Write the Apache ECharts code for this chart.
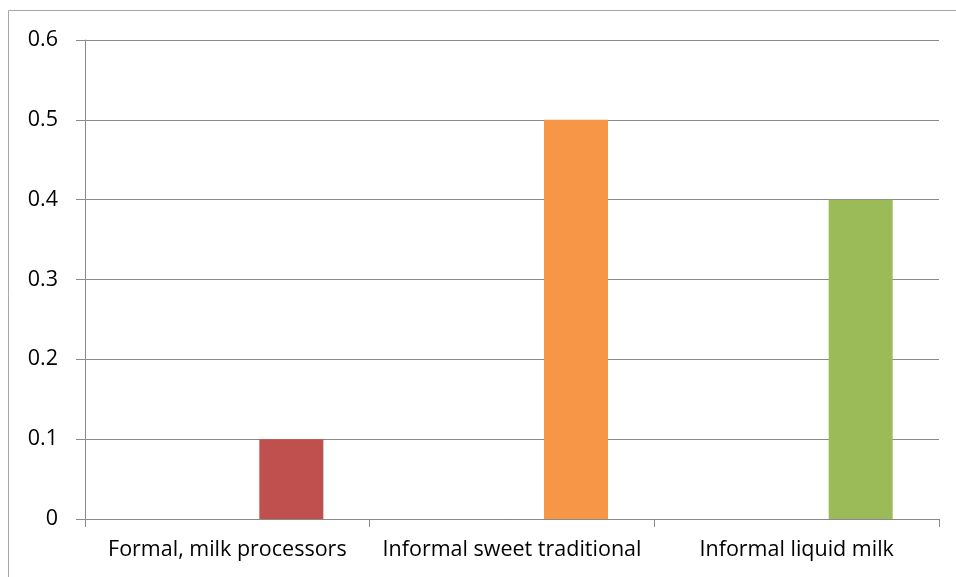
<!DOCTYPE html>
<html>
<head>
<meta charset="utf-8">
<script src="https://cdn.jsdelivr.net/npm/echarts@6/dist/echarts.min.js"></script>
<style>
  html, body { margin: 0; padding: 0; background: #fff; }
  #chart { width: 956px; height: 577px; }
</style>
</head>
<body>
<div id="chart"></div>
<script>
// Categories and values
const categories = ['Formal, milk processors', 'Informal sweet traditional', 'Informal liquid milk'];
const shareValues = [0.1, 0.5, 0.4];
const barColors = ['#C0504D', '#F79646', '#9BBB59'];
// Two empty leading series keep the filled bar in the third slot of each group
const emptyA = ['-', '-', '-'];
const emptyB = ['-', '-', '-'];
const yTicks = { min: 0, max: 0.6, interval: 0.1 };

const axisGray = '#8a8a8a';
const font = '"Open Sans", "Noto Sans", sans-serif';

const chart = echarts.init(document.getElementById('chart'), null, { renderer: 'canvas' });

const barBase = { type: 'bar', barWidth: 64, barGap: '0%', animation: false };

chart.setOption({
  backgroundColor: '#ffffff',
  animation: false,
  graphic: [{
    type: 'rect',
    shape: { x: 8.5, y: 10.5, width: 1200, height: 1200 },
    style: { fill: 'none', stroke: '#a6a6a6', lineWidth: 1 },
    silent: true
  }],
  grid: { left: 85, right: 17, top: 40, bottom: 58, containLabel: false },
  xAxis: {
    type: 'category',
    data: categories,
    boundaryGap: true,
    axisLine: { show: true, lineStyle: { color: axisGray, width: 1 } },
    axisTick: { show: true, length: 8, lineStyle: { color: axisGray } },
    axisLabel: { color: '#000', fontFamily: font, fontSize: 21.5, margin: 20, interval: 0 },
    splitLine: { show: false }
  },
  yAxis: {
    type: 'value',
    min: yTicks.min,
    max: yTicks.max,
    interval: yTicks.interval,
    axisLine: { show: true, lineStyle: { color: axisGray, width: 1 } },
    axisTick: { show: true, length: 9, lineStyle: { color: axisGray } },
    axisLabel: {
      color: '#000', fontFamily: font, fontSize: 21.5, margin: 27,
      formatter: v => (v === 0 ? '0' : v.toFixed(1))
    },
    splitLine: { show: true, lineStyle: { color: axisGray, width: 1 } }
  },
  series: [
    Object.assign({}, barBase, { name: 'a', data: emptyA }),
    Object.assign({}, barBase, { name: 'b', data: emptyB }),
    Object.assign({}, barBase, {
      name: 'share',
      data: shareValues.map((v, i) => ({ value: v, itemStyle: { color: barColors[i] } }))
    })
  ]
});
</script>
</body>
</html>
